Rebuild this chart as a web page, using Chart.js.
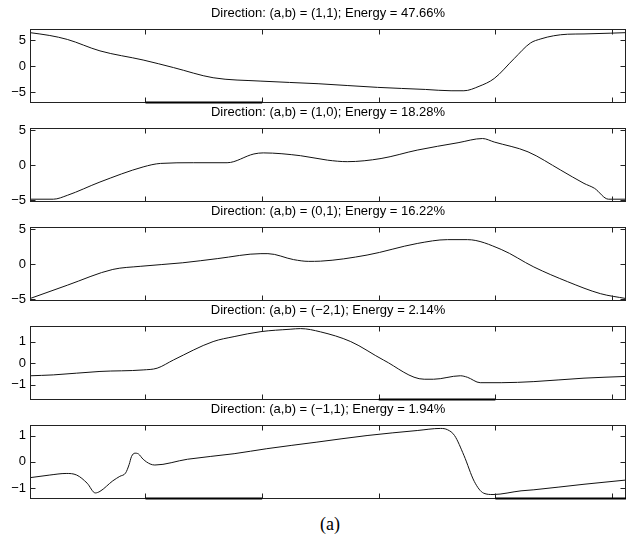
<!DOCTYPE html>
<html>
<head>
<meta charset="utf-8">
<script src="https://cdn.jsdelivr.net/npm/chart.js@4/dist/chart.umd.min.js"></script>
<style>
  html, body { margin: 0; padding: 0; background: #fff; }
  #wrap { position: relative; width: 629px; height: 535px; overflow: hidden; background: #fff; }
  #wrap canvas { position: absolute; left: 0; }
  #cap { position: absolute; left: 290px; width: 80px; top: 514px; line-height: 20px;
         text-align: center; font-family: "Liberation Serif", serif; font-size: 18px; color: #000; }
</style>
</head>
<body>
<div id="wrap">
  <canvas id="c0" width="629" height="105" style="top:0px"></canvas>
  <canvas id="c1" width="629" height="105" style="top:99px"></canvas>
  <canvas id="c2" width="629" height="105" style="top:198px"></canvas>
  <canvas id="c3" width="629" height="105" style="top:297px"></canvas>
  <canvas id="c4" width="629" height="105" style="top:396px"></canvas>
  <div id="cap">(a)</div>
</div>
<script>
// Sample positions (1..512) shared by all projections
const xTicks = [100, 200, 300, 400, 500];

// Direction (1,1)
const title1 = "Direction: (a,b) = (1,1); Energy = 47.66%";
const x1 = [1, 18, 33, 61, 98, 124, 158, 199, 248, 299, 340, 362, 373, 386, 399, 416, 430, 439, 450, 462, 476, 499, 512];
const y1 = [6.4, 5.85, 5.1, 2.9, 1.15, -0.3, -2.25, -2.9, -3.4, -4.1, -4.5, -4.75, -4.75, -3.9, -2.4, 1.4, 4.4, 5.2, 5.8, 6.1, 6.15, 6.3, 6.4];
const yTicks1 = [-5, 0, 5];
const yLim1 = [-7.1, 7.1];

// Direction (1,0)
const title2 = "Direction: (a,b) = (1,0); Energy = 18.28%";
const x2 = [1, 21, 33, 61, 98, 113, 141, 170, 193, 201, 233, 256, 273, 302, 333, 368, 389, 399, 428, 456, 476, 485, 497, 512];
const y2 = [-4.85, -4.85, -4.3, -2.4, -0.25, 0.25, 0.35, 0.35, 1.6, 1.75, 1.35, 0.72, 0.5, 0.95, 2.15, 3.2, 3.8, 3.3, 1.9, -0.7, -2.6, -3.3, -4.85, -4.85];
const yTicks2 = [-5, 0, 5];
const yLim2 = [-5.25, 5.3];

// Direction (0,1)
const title3 = "Direction: (a,b) = (0,1); Energy = 16.22%";
const x3 = [1, 33, 72, 96, 132, 162, 199, 205, 227, 240, 250, 290, 333, 359, 376, 405, 433, 462, 490, 512];
const y3 = [-4.9, -3.0, -0.75, -0.3, 0.2, 0.8, 1.5, 1.5, 0.65, 0.4, 0.43, 1.3, 2.95, 3.5, 3.5, 2.1, -0.4, -2.5, -4.2, -4.9];
const yTicks3 = [-5, 0, 5];
const yLim3 = [-5.25, 5.3];

// Direction (-2,1)
const title4 = "Direction: (a,b) = (\u22122,1); Energy = 2.14%";
const x4 = [1, 21, 61, 98, 110, 124, 158, 176, 199, 224, 233, 250, 276, 304, 339, 347, 370, 376, 387, 405, 433, 476, 512];
const y4 = [-0.58, -0.54, -0.38, -0.31, -0.23, 0.15, 1.0, 1.23, 1.46, 1.57, 1.6, 1.45, 1.0, 0.15, -0.74, -0.74, -0.58, -0.65, -0.9, -0.9, -0.85, -0.69, -0.61];
const yTicks4 = [-1, 0, 1];
const yLim4 = [-1.7, 1.72];

// Direction (-1,1)
const title5 = "Direction: (a,b) = (\u22121,1); Energy = 1.94%";
const x5 = [1, 18, 32, 41, 50, 57, 61, 72, 78, 83, 86, 88, 91, 94, 98, 104, 108, 136, 176, 204, 247, 290, 333, 353, 359, 365, 373, 382, 390, 398, 422, 433, 476, 512];
const y5 = [-0.6, -0.5, -0.44, -0.5, -0.81, -1.18, -1.12, -0.72, -0.55, -0.42, -0.1, 0.2, 0.33, 0.3, 0.1, -0.08, -0.12, 0.1, 0.31, 0.5, 0.75, 1.0, 1.19, 1.27, 1.22, 1.0, 0.25, -0.75, -1.19, -1.24, -1.1, -1.06, -0.85, -0.69];
const yTicks5 = [-1, 0, 1];
const yLim5 = [-1.41, 1.4];

const panels = [
  { title: title1, xs: x1, ys: y1, yTicks: yTicks1, yLim: yLim1, heavy: [[100, 200]] },
  { title: title2, xs: x2, ys: y2, yTicks: yTicks2, yLim: yLim2, heavy: [] },
  { title: title3, xs: x3, ys: y3, yTicks: yTicks3, yLim: yLim3, heavy: [] },
  { title: title4, xs: x4, ys: y4, yTicks: yTicks4, yLim: yLim4, heavy: [[300, 400]] },
  { title: title5, xs: x5, ys: y5, yTicks: yTicks5, yLim: yLim5, heavy: [[100, 200], [400, 512]] }
];

const FONT = "'Liberation Sans', Arial, Helvetica, sans-serif";

// Box frame with inward tick marks on all four sides
const framePlugin = {
  id: 'frame',
  afterDatasetsDraw(chart, args, opts) {
    const { ctx, chartArea: a, scales: { x, y } } = chart;
    const L = Math.round(a.left) + 0.5, R = Math.round(a.right) - 0.5;
    const T = Math.round(a.top) + 0.5, B = Math.round(a.bottom) - 0.5;
    const len = 5;
    ctx.save();
    ctx.strokeStyle = '#222';
    ctx.lineWidth = 1;
    ctx.strokeRect(L, T, R - L, B - T);
    ctx.beginPath();
    xTicks.forEach(v => {
      const px = Math.round(x.getPixelForValue(v)) + 0.5;
      ctx.moveTo(px, T); ctx.lineTo(px, T + len);
      ctx.moveTo(px, B); ctx.lineTo(px, B - len);
    });
    y.ticks.forEach(t => {
      const py = Math.round(y.getPixelForValue(t.value)) + 0.5;
      ctx.moveTo(L, py); ctx.lineTo(L + len, py);
      ctx.moveTo(R, py); ctx.lineTo(R - len, py);
    });
    ctx.stroke();
    // darker stretches along the bottom edge
    ctx.strokeStyle = '#000';
    ctx.lineWidth = 2;
    ctx.beginPath();
    (opts.heavy || []).forEach(([v0, v1]) => {
      const p0 = Math.max(a.left, x.getPixelForValue(v0));
      const p1 = Math.min(a.right, x.getPixelForValue(v1));
      ctx.moveTo(p0, B); ctx.lineTo(p1, B);
    });
    ctx.stroke();
    ctx.restore();
  }
};

panels.forEach((p, i) => {
  new Chart(document.getElementById('c' + i), {
    type: 'line',
    data: {
      datasets: [{
        data: p.xs.map((xv, k) => ({ x: xv, y: p.ys[k] })),
        borderColor: '#111',
        borderWidth: 1,
        pointRadius: 0,
        fill: false,
        cubicInterpolationMode: 'monotone'
      }]
    },
    options: {
      responsive: false,
      animation: false,
      devicePixelRatio: 1,
      events: [],
      layout: { padding: { left: 0, right: 3, top: 0, bottom: 2 } },
      plugins: {
        legend: { display: false },
        tooltip: { enabled: false },
        title: {
          display: true,
          text: p.title,
          fullSize: false,
          color: '#000',
          font: { family: FONT, size: 13, weight: 'normal', lineHeight: 1.2 },
          padding: { top: 6, bottom: 7.4 }
        },
        frame: { heavy: p.heavy }
      },
      scales: {
        x: {
          type: 'linear',
          display: false,
          min: 1,
          max: 512
        },
        y: {
          type: 'linear',
          min: p.yLim[0],
          max: p.yLim[1],
          afterBuildTicks: s => { s.ticks = p.yTicks.map(v => ({ value: v })); },
          afterFit: s => { s.width = 30; s.paddingTop = 0; s.paddingBottom = 0; },
          grid: { display: false, drawTicks: false },
          border: { display: false },
          ticks: {
            color: '#000',
            padding: 4,
            font: { family: FONT, size: 13 },
            callback: v => String(v).replace('-', '\u2212')
          }
        }
      }
    },
    plugins: [framePlugin]
  });
});
</script>
</body>
</html>
